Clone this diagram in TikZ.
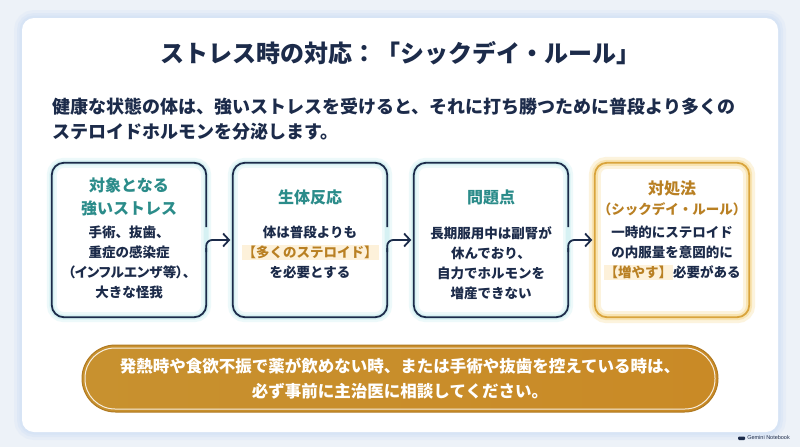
\documentclass[tikz,border=0pt]{standalone}
\usepackage{fontspec}
\setmainfont{Noto Sans CJK JP}
\newfontfamily\jpprop{Noto Sans CJK JP}[RawFeature=+palt]
\newfontfamily\latinsans{Liberation Sans}
\usetikzlibrary{arrows.meta,calc}
\definecolor{bgblue}{HTML}{EDF2F8}
\definecolor{cardglow}{HTML}{D3E2F5}
\definecolor{navy}{HTML}{1C2B4A}
\definecolor{tealhead}{HTML}{2B8C8A}
\definecolor{gold}{HTML}{D9A43C}
\definecolor{goldtext}{HTML}{B98023}
\definecolor{goldglow}{HTML}{F7DFA0}
\definecolor{tealglow}{HTML}{CDEFF1}
\definecolor{hlbg}{HTML}{FDF1DA}
\definecolor{banL}{HTML}{C8912F}
\definecolor{banM}{HTML}{EFD182}
\definecolor{banR}{HTML}{C98A26}
\definecolor{banEdge}{HTML}{B07A22}
\newcommand{\hlgold}[1]{{\setlength{\fboxsep}{1pt}\colorbox{hlbg}{\color{goldtext}#1}}}
\begin{document}
\begin{tikzpicture}[x=1pt,y=-1pt,
  cardbox/.style={minimum width=154pt,minimum height=154pt,inner sep=0pt},
  navyline/.style={draw=navy,line width=1.8pt,rounded corners=12pt},
  goldline/.style={draw=gold,line width=1.8pt,rounded corners=12pt},
  conn/.style={draw=navy,line width=1.8pt,rounded corners=6pt,-{Straight Barb[length=6pt,width=13pt]},shorten >=2.5pt},
  head/.style={align=center,inner sep=0pt,text=tealhead,font=\fontsize{16}{23}\selectfont\bfseries},
  body/.style={align=center,inner sep=0pt,text=navy,font=\fontsize{13.5}{20}\selectfont\bfseries},
  bantext/.style={align=center,inner sep=0pt,text=white,font=\fontsize{16.5}{25}\selectfont\bfseries}]
\fill[bgblue] (0,0) rectangle (800,447);
\useasboundingbox (0,0) rectangle (800,447);
% card
\foreach \w/\o in {16/0.25,10/0.4,5/0.6}
  \draw[cardglow,line width=\w pt,opacity=\o,rounded corners=12pt] (22,18) rectangle (778,432);
\fill[white,rounded corners=12pt] (22,18) rectangle (778,432);
% title and intro
\node[font=\fontsize{24}{28}\selectfont\bfseries,text=navy] (title) at (400,53) {ストレス時の対応：「シックデイ・ルール」};
\node[anchor=west,align=left,inner sep=0pt,text=navy,font=\fontsize{18}{25}\selectfont\bfseries] (intro) at (52,119.5)
  {健康な状態の体は、強いストレスを受けると、それに打ち勝つために普段より多くの\\ステロイドホルモンを分泌します。};
% boxes
\node[cardbox] (b1) at (129,240) {};
\node[cardbox] (b2) at (310,240) {};
\node[cardbox] (b3) at (491,240) {};
\node[cardbox] (b4) at (672,240) {};
\foreach \b in {b1,b2,b3}{
  \draw[tealglow,line width=10pt,opacity=.35,rounded corners=12pt] (\b.north west) rectangle (\b.south east);
  \draw[tealglow,line width=5pt,opacity=.7,rounded corners=12pt] (\b.north west) rectangle (\b.south east);
}
\draw[goldglow,line width=12pt,opacity=.35,rounded corners=12pt] (b4.north west) rectangle (b4.south east);
\draw[goldglow,line width=6pt,opacity=.7,rounded corners=12pt] (b4.north west) rectangle (b4.south east);
% borders with outgoing connectors
\draw[navyline] ($(b1.east)+(0,-13)$) |- (b1.north west) |- (b1.south east) -- ($(b1.east)+(0,8)$);
\draw[navyline] ($(b2.east)+(0,-13)$) |- (b2.north west) |- (b2.south east) -- ($(b2.east)+(0,8)$);
\draw[navyline] ($(b3.east)+(0,-13)$) |- (b3.north west) |- (b3.south east) -- ($(b3.east)+(0,8)$);
\draw[goldline] (b4.north west) rectangle (b4.south east);
\draw[conn] ($(b1.east)+(0,12)$) |- (b2.west);
\draw[conn] ($(b2.east)+(0,12)$) |- (b3.west);
\draw[conn] ($(b3.east)+(0,12)$) |- (b4.west);
% box texts
\node[head] (h1) at (129,196.5) {対象となる\\強いストレス};
\node[body] (t1) at (129,262) {手術、抜歯、\\重症の感染症\\{\jpprop（インフルエンザ等）、}\\大きな怪我};
\node[head] (h2) at (310,197) {生体反応};
\node[body] (t2) at (310,252.5) {体は普段よりも\\\hlgold{【多くのステロイド】}\\を必要とする};
\node[head] (h3) at (491,197) {問題点};
\node[body] (t3) at (491,263) {長期服用中は副腎が\\休んでおり、\\自力でホルモンを\\増産できない};
\node[head,text=goldtext] (h4) at (672,188) {対処法};
\node[body,text=goldtext] (s4) at (672,209.5) {（シックデイ・ルール）};
\node[body] (t4) at (672,253) {一時的にステロイド\\の内服量を意図的に\\\hlgold{【増やす】}必要がある};
% banner
\node[minimum width=636pt,minimum height=67pt,inner sep=0pt,rounded corners=33.5pt,
  left color=banL,middle color=banM,right color=banR,draw=banEdge,line width=1pt] (ban) at (400,378.5) {};
\draw[white,line width=1pt,opacity=.85,rounded corners=30pt]
  ($(ban.north west)+(3.5,3.5)$) rectangle ($(ban.south east)+(-3.5,-3.5)$);
\node[bantext] (bt) at (ban.center) {発熱時や食欲不振で薬が飲めない時、または手術や抜歯を控えている時は、\\必ず事前に主治医に相談してください。};
% watermark
\node[anchor=east,inner sep=0pt,text=navy,font=\latinsans\fontsize{5.5}{6}\selectfont] (gn) at (790,438) {Gemini Notebook};
\fill[navy,rounded corners=1pt] ($(gn.west)+(-9,2)$) rectangle ($(gn.west)+(-2,-1.5)$);
\end{tikzpicture}
\end{document}
